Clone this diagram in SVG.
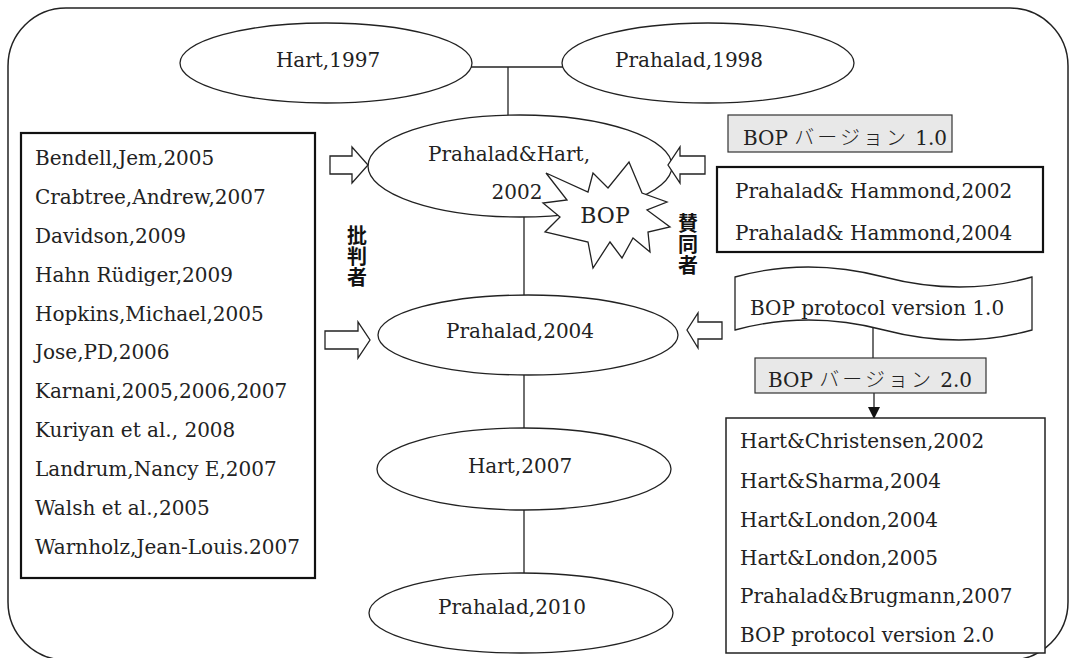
<svg xmlns="http://www.w3.org/2000/svg" width="1070" height="658" viewBox="0 0 1070 658">
<defs>
<style>
.t{font-family:"DejaVu Serif","Liberation Serif","Noto Sans CJK JP",serif;font-size:20px;fill:#222}
.c{text-anchor:middle}
.jp{font-family:"Noto Sans CJK JP",sans-serif;font-weight:bold;font-size:20px;fill:#111;writing-mode:vertical-rl;letter-spacing:1px}
.kt{font-family:"Noto Sans CJK JP",sans-serif;font-weight:300;letter-spacing:3px}
.e{fill:#fff;stroke:#222;stroke-width:1.3}
.ln{stroke:#222;stroke-width:1.3;fill:none}
.bx{fill:#fff;stroke:#111;stroke-width:2.2}
.gv{fill:#e8e8e8;stroke:#333;stroke-width:1.2}
.ar{fill:#fff;stroke:#222;stroke-width:1.3}
</style>
<marker id="tri" markerWidth="12" markerHeight="12" refX="11" refY="6" orient="auto" markerUnits="userSpaceOnUse">
<path d="M0,0 L12,6 L0,12 Z" fill="#111"/>
</marker>
</defs>
<rect width="1070" height="658" fill="#fff"/>
<rect x="8" y="8" width="1060" height="652" rx="58" ry="58" fill="none" stroke="#222" stroke-width="1.5"/>

<g id="connectors">
<line class="ln" x1="470" y1="67" x2="565" y2="67"/>
<line class="ln" x1="508" y1="67" x2="508" y2="120"/>
<line class="ln" x1="524" y1="210" x2="524" y2="300"/>
<line class="ln" x1="524" y1="370" x2="524" y2="432"/>
<line class="ln" x1="524" y1="505" x2="524" y2="577"/>
<line class="ln" x1="873" y1="322" x2="873" y2="360"/>
<line class="ln" x1="874" y1="393" x2="874" y2="418" marker-end="url(#tri)"/>
</g>

<g id="n-hart1997"><ellipse class="e" cx="326" cy="63" rx="146" ry="40"/><text class="t c" x="328" y="67">Hart,1997</text></g>
<g id="n-prahalad1998"><ellipse class="e" cx="708" cy="63" rx="146" ry="40"/><text class="t c" x="689" y="67">Prahalad,1998</text></g>
<g id="n-ph2002"><ellipse class="e" cx="520" cy="166" rx="152" ry="51"/><text class="t c" x="509" y="161">Prahalad&amp;Hart,</text><text class="t c" x="517" y="199">2002</text></g>
<g id="n-bop-star"><polygon fill="#fff" stroke="#222" stroke-width="1.3" points="546,173 588,192 593,173 608,188 629,162 642,193 667,202 647,210 670,227 648,232 650,252 633,238 622,258 610,242 593,268 588,242 545,232 560,217 543,203 567,200"/><text class="t c" x="605" y="223" style="font-size:22px">BOP</text></g>
<g id="n-prahalad2004"><ellipse class="e" cx="528" cy="335" rx="150" ry="40"/><text class="t c" x="520" y="338">Prahalad,2004</text></g>
<g id="n-hart2007"><ellipse class="e" cx="524" cy="469" rx="147" ry="41"/><text class="t c" x="520" y="473">Hart,2007</text></g>
<g id="n-prahalad2010"><ellipse class="e" cx="521" cy="613" rx="152" ry="40"/><text class="t c" x="512" y="614">Prahalad,2010</text></g>

<g id="n-critics">
<rect class="bx" x="21" y="133" width="294" height="445"/>
<text class="t" x="35" y="165">Bendell,Jem,2005</text>
<text class="t" x="35" y="204">Crabtree,Andrew,2007</text>
<text class="t" x="35" y="243">Davidson,2009</text>
<text class="t" x="35" y="282">Hahn Rüdiger,2009</text>
<text class="t" x="35" y="321">Hopkins,Michael,2005</text>
<text class="t" x="35" y="359">Jose,PD,2006</text>
<text class="t" x="35" y="398">Karnani,2005,2006,2007</text>
<text class="t" x="35" y="437">Kuriyan et al., 2008</text>
<text class="t" x="35" y="476">Landrum,Nancy E,2007</text>
<text class="t" x="35" y="515">Walsh et al.,2005</text>
<text class="t" x="35" y="554">Warnholz,Jean-Louis.2007</text>
</g>
<g id="label-critics"><text class="jp" x="357" y="225">批判者</text></g>
<g id="label-supporters"><text class="jp" x="688" y="213">賛同者</text></g>

<g id="arrows">
<path class="ar" d="M330,156 H352 V147 L368,165 L352,183 V174 H330 Z"/>
<path class="ar" d="M705,156 H680 V147 L668,165 L680,183 V174 H705 Z"/>
<path class="ar" d="M325,331 H358 V322 L370,340 L358,358 V349 H325 Z"/>
<path class="ar" d="M722,322 H698 V313 L687,330 L698,348 V339 H722 Z"/>
</g>

<g id="n-bop1"><rect class="gv" x="728" y="115" width="224" height="37"/><text class="t" x="743" y="145">BOP <tspan class="kt">バージョン</tspan> 1.0</text></g>
<g id="n-supporters">
<rect class="bx" x="717" y="167" width="326" height="85"/>
<text class="t" x="735" y="198">Prahalad&amp; Hammond,2002</text>
<text class="t" x="735" y="240">Prahalad&amp; Hammond,2004</text>
</g>
<g id="n-protocol1"><path class="e" d="M735,277 Q807,257 884,277 T1032,277 V330 Q960,350 884,330 T735,330 Z"/><text class="t" x="750" y="315">BOP protocol version 1.0</text></g>
<g id="n-bop2"><rect class="gv" x="755" y="358" width="231" height="35"/><text class="t" x="768" y="387">BOP <tspan class="kt">バージョン</tspan> 2.0</text></g>
<g id="n-v2list">
<rect fill="#fff" stroke="#222" stroke-width="1.5" x="726" y="418" width="319" height="235"/>
<text class="t" x="740" y="448">Hart&amp;Christensen,2002</text>
<text class="t" x="740" y="488">Hart&amp;Sharma,2004</text>
<text class="t" x="740" y="527">Hart&amp;London,2004</text>
<text class="t" x="740" y="565">Hart&amp;London,2005</text>
<text class="t" x="740" y="603">Prahalad&amp;Brugmann,2007</text>
<text class="t" x="740" y="642">BOP protocol version 2.0</text>
</g>
</svg>
